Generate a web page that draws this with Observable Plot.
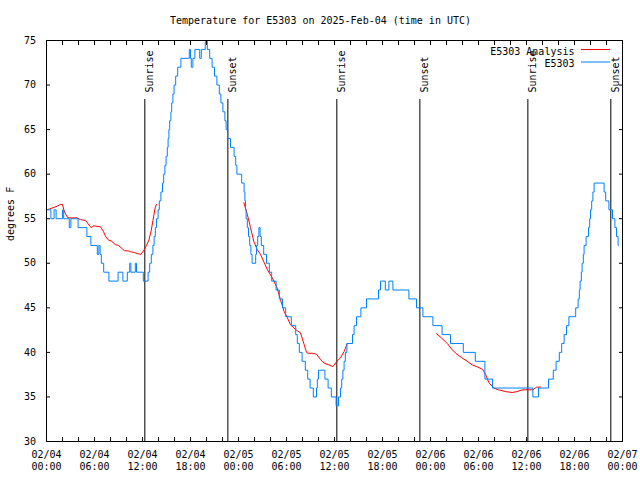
<!DOCTYPE html>
<html><head><meta charset="utf-8">
<script src="https://cdn.jsdelivr.net/npm/d3@7"></script>
<script src="https://cdn.jsdelivr.net/npm/@observablehq/plot@0.6"></script>
<style>body{margin:0;background:#fff}</style>
</head><body><div id="chart"></div>
<script>
const chartTitle = "Temperature for E5303 on 2025-Feb-04 (time in UTC)";
const yLabel = "degrees F";
const startUTC = "2025-02-04T00:00:00Z";
const seriesNames = ["E5303 Analysis", "E5303"];
const seriesColors = ["#ff0000", "#0080ff"];
const yTicks = [30, 35, 40, 45, 50, 55, 60, 65, 70, 75];
const xTickHours = [0,2,4,6,8,10,12,14,16,18,20,22,24,26,28,30,32,34,36,38,40,42,44,46,48,50,52,54,56,58,60,62,64,66,68,70,72];
const sunHours = [12.29, 22.67, 36.29, 46.67, 60.17, 70.54];
const sunLabels = ["Sunrise", "Sunset", "Sunrise", "Sunset", "Sunrise", "Sunset"];

// E5303 observations: [hour since start, temperature F] at each change (step-after)
const obsSteps = [[0.0,56],[0.55,55],[0.95,56],[1.2,55],[2.0,56],[2.15,55],[2.85,54],[3.05,55],[3.95,54],[5.05,53],[5.55,52],[6.35,51],[6.55,52],[6.7,51],[6.85,50],[7.15,49],[7.8,48],[8.95,49],[9.55,48],[10.1,49],[10.4,50],[10.55,49],[11.1,50],[11.25,49],[12.1,48],[12.7,49],[12.9,50],[13.1,51],[13.3,52],[13.45,53],[13.6,54],[13.75,55],[13.95,56],[14.1,57],[14.3,58],[14.5,59],[14.65,60],[14.8,61],[14.95,62],[15.1,63],[15.2,64],[15.3,65],[15.4,66],[15.55,67],[15.65,68],[15.8,69],[15.95,70],[16.15,71],[16.4,72],[16.8,73],[17.85,74],[18.0,73],[18.1,72],[18.3,73],[18.55,74],[19.15,73],[19.35,74],[19.85,75],[20.1,74],[20.4,73],[20.7,72],[21.0,71],[21.3,70],[21.6,69],[21.8,68],[22.05,67],[22.3,66],[22.45,65],[22.65,64],[23.0,63],[23.45,62],[23.65,61],[23.8,60],[24.4,59],[24.7,58],[24.8,57],[24.88,56],[24.95,55],[25.1,54],[25.25,53],[25.4,52],[25.55,51],[25.7,50],[26.15,51],[26.25,52],[26.4,53],[26.55,54],[26.7,53],[26.85,52],[27.15,51],[27.5,50],[27.85,49],[28.15,48],[28.7,47],[29.1,46],[29.5,45],[29.9,44],[30.6,43],[31.15,42],[31.35,41],[31.6,40],[31.95,39],[32.35,38],[32.65,37],[32.95,36],[33.35,35],[33.75,36],[33.85,37],[34.0,38],[34.8,37],[35.2,36],[35.6,35],[36.2,34],[36.5,35],[36.75,36],[36.9,37],[37.05,38],[37.2,39],[37.35,40],[37.55,41],[38.25,42],[38.45,43],[38.75,44],[39.3,45],[40.0,46],[41.5,47],[41.75,48],[42.35,47],[42.8,48],[43.3,47],[45.3,46],[46.25,45],[47.05,44],[48.3,43],[49.45,42],[50.5,41],[52.1,40],[53.6,39],[54.8,37],[55.75,36],[60.8,35],[61.5,36],[62.75,37],[63.35,38],[63.7,39],[64.1,40],[64.4,41],[64.7,42],[65.0,43],[65.3,44],[66.15,45],[66.45,46],[66.6,47],[66.7,48],[66.85,49],[66.95,50],[67.1,51],[67.2,52],[67.45,53],[67.75,54],[67.9,55],[68.0,56],[68.15,57],[68.3,58],[68.45,59],[69.7,58],[69.9,57],[70.3,56],[70.75,55],[71.05,54],[71.25,53],[71.45,52],[71.5,52]];

// E5303 Analysis, three separate runs: [hour, temperature F]
const analysisRun1 = [[0,56.0],[0.4,56.1],[1.0,56.3],[1.33,56.4],[1.75,56.6],[2.0,56.6],[2.17,56.0],[2.4,55.5],[2.67,55.1],[3.25,55.1],[3.8,55.1],[4.25,54.9],[4.9,54.8],[5.3,54.3],[5.6,54.0],[5.9,54.2],[6.75,54.1],[7.1,53.6],[7.4,53.0],[7.75,52.6],[8.1,52.5],[8.6,52.1],[9.0,52.0],[9.5,51.6],[9.75,51.4],[10.2,51.4],[10.5,51.3],[11.0,51.2],[11.3,51.1],[11.8,51.0],[12.2,51.5],[12.5,52.0],[12.8,52.6],[13.1,53.7],[13.3,54.8],[13.6,56.3],[13.75,56.6]];
const analysisRun2 = [[24.67,56.8],[25.0,55.8],[25.1,55.5],[25.5,54.0],[25.9,52.5],[26.3,51.6],[26.75,51.0],[27.2,50.1],[27.6,49.3],[28.2,48.4],[28.8,47.3],[29.25,45.9],[29.7,44.6],[30.1,43.9],[30.5,43.1],[31.1,42.6],[31.4,42.4],[31.75,42.2],[32.2,40.9],[32.5,40.0],[32.7,39.9],[33.2,39.9],[33.75,39.8],[34.25,39.2],[34.7,38.8],[35.3,38.6],[35.8,38.4],[36.3,39.0],[36.75,39.4],[37.2,40.1],[37.6,41.0]];
const analysisRun3 = [[48.75,42.1],[49.4,41.6],[50.1,41.0],[50.7,40.3],[51.3,39.8],[51.9,39.4],[52.6,39.0],[53.2,38.6],[53.8,38.4],[54.5,38.1],[54.9,37.5],[55.3,36.6],[55.9,36.0],[56.5,35.8],[57.4,35.6],[58.2,35.5],[58.8,35.6],[59.5,35.8],[60.8,35.8],[61.25,36.1],[61.8,36.1]];

const t0 = new Date(startUTC);
const toDate = h => new Date(+t0 + h * 3600e3);
const obs = obsSteps.map(([h, v]) => ({t: toDate(h), v}));
const analysis = [analysisRun1, analysisRun2, analysisRun3].flatMap((run, i) => run.map(([h, v]) => ({t: toDate(h), v, run: i})));
const sun = sunHours.map((h, i) => ({t: toDate(h), label: sunLabels[i]}));
const xTicks = xTickHours.map(toDate);
const fmt = d3.utcFormat("%m/%d\n%H:%M");
const font = "DejaVu Sans Mono";

const chart = Plot.plot({
  width: 640, height: 480,
  marginLeft: 46, marginRight: 18, marginTop: 40, marginBottom: 39,
  x: {type: "utc", domain: [toDate(0), toDate(72)]},
  y: {domain: [30, 75]},
  style: {fontFamily: font, fontSize: "10px", background: "white", color: "black"},
  marks: [
    Plot.ruleX(sun, {x: "t", stroke: "black", insetTop: 59}),
    Plot.text(sun, {x: "t", text: "label", frameAnchor: "top", rotate: -90, textAnchor: "start", dy: 52, dx: 1, fill: "black"}),
    Plot.line(analysis, {x: "t", y: "v", z: "run", stroke: seriesColors[0], strokeWidth: 1}),
    Plot.line(obs, {x: "t", y: "v", curve: "step-after", stroke: seriesColors[1], strokeWidth: 1}),
    Plot.axisX(xTicks, {anchor: "bottom", tickSize: -4, tickPadding: 12.5, tickFormat: d => d.getUTCHours() % 6 === 0 ? fmt(d) : "", label: null, lineHeight: 1.17}),
    Plot.axisX(xTicks, {anchor: "top", tickSize: -4, tickFormat: () => "", label: null}),
    Plot.axisY(yTicks, {anchor: "left", tickSize: -4, tickPadding: 14.5, label: null}),
    Plot.axisY(yTicks, {anchor: "right", tickSize: -4, tickFormat: () => "", label: null}),
    Plot.frame({stroke: "black"}),
    Plot.text([chartTitle], {frameAnchor: "top", dy: -23.5, dx: -14, fill: "black"}),
    Plot.text([yLabel], {frameAnchor: "left", dx: -36, rotate: -90, fill: "black"}),
    Plot.text([seriesNames[0]], {frameAnchor: "top-right", dx: -48, dy: 7, textAnchor: "end", fill: "black"}),
    Plot.text([seriesNames[1]], {frameAnchor: "top-right", dx: -48, dy: 19.5, textAnchor: "end", fill: "black"})
  ]
});

// legend line samples
const svg = d3.select(chart);
[[seriesColors[0], 49.5], [seriesColors[1], 62]].forEach(([c, y]) => {
  svg.append("line").attr("x1", 581).attr("x2", 610).attr("y1", y).attr("y2", y)
    .attr("stroke", c).attr("stroke-width", 1);
});
document.getElementById("chart").appendChild(chart);
</script>
</body></html>
